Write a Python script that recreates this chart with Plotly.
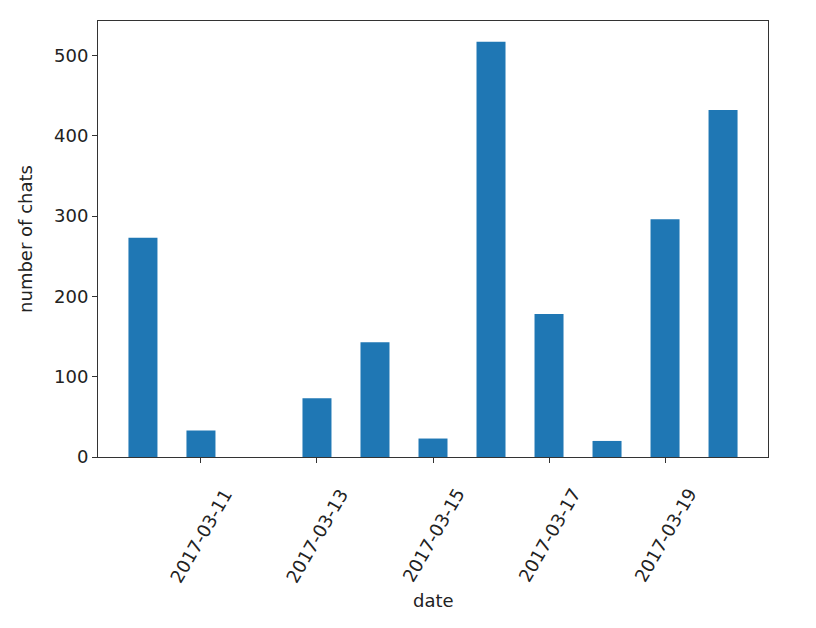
import plotly.graph_objects as go

dates = ["2017-03-10", "2017-03-11", "2017-03-12", "2017-03-13", "2017-03-14", "2017-03-15",
         "2017-03-16", "2017-03-17", "2017-03-18", "2017-03-19", "2017-03-20"]
chats = [273, 33, 0, 73, 143, 23, 517, 178, 20, 296, 432]
tick_dates = ["2017-03-11", "2017-03-13", "2017-03-15", "2017-03-17", "2017-03-19"]
y_ticks = [0, 100, 200, 300, 400, 500]

fig = go.Figure(
    go.Bar(
        x=dates,
        y=chats,
        width=12 * 3600 * 1000,
        marker_color="#1f77b4",
        marker_line_width=0,
    )
)

axis_common = dict(
    showline=True,
    linecolor="#333333",
    linewidth=1,
    mirror=True,
    ticks="outside",
    ticklen=5,
    tickcolor="#333333",
    showgrid=False,
    zeroline=False,
    tickfont=dict(family="DejaVu Sans", size=18, color="#222222"),
)

# rotated date labels centred under their ticks (matplotlib style)
for d in tick_dates:
    fig.add_annotation(
        x=d, y=-0.179, xref="x", yref="paper",
        text=d, textangle=-60, showarrow=False,
        xanchor="center", yanchor="middle",
        font=dict(family="DejaVu Sans", size=18, color="#222222"),
    )
fig.add_annotation(
    x=0.5, y=-0.329, xref="paper", yref="paper",
    text="date", showarrow=False, xanchor="center", yanchor="middle",
    font=dict(family="DejaVu Sans", size=18, color="#222222"),
)

# page body adds an 8px offset, margins are shifted to compensate
fig.update_layout(
    width=816,
    height=628,
    paper_bgcolor="white",
    plot_bgcolor="white",
    margin=dict(l=90, r=56, t=13, b=179),
    showlegend=False,
    font=dict(family="DejaVu Sans", size=18, color="#222222"),
    xaxis=dict(
        type="date",
        range=["2017-03-09 05:24", "2017-03-20 18:36"],
        tickvals=tick_dates,
        showticklabels=False,
        **axis_common,
    ),
    yaxis=dict(
        range=[0, 542.85],
        tickvals=y_ticks,
        title=dict(text="number of chats", standoff=16, font=dict(size=18)),
        **axis_common,
    ),
)

fig.write_html("out.html")
